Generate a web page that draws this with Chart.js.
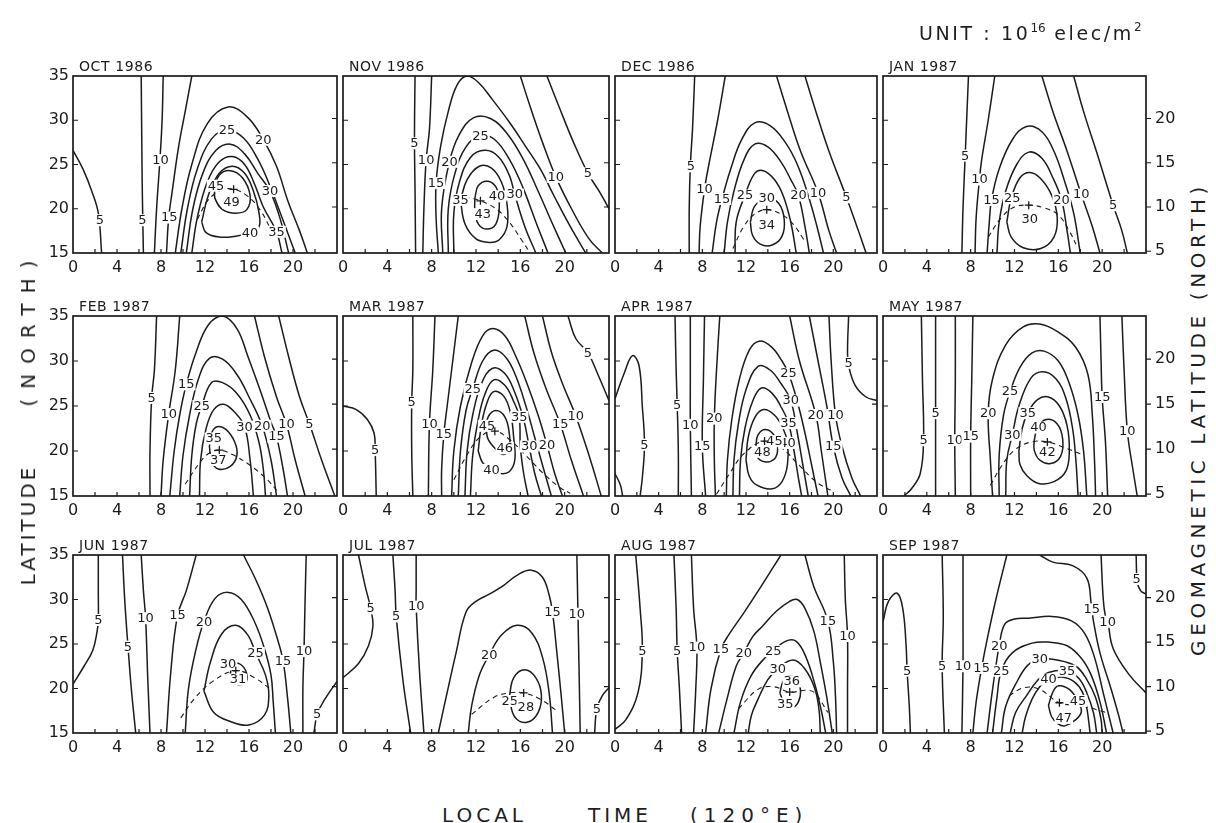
<!DOCTYPE html>
<html><head><meta charset="utf-8">
<script src="https://cdn.jsdelivr.net/npm/chart.js@4.4.1/dist/chart.umd.min.js"></script>
<style>
html,body{margin:0;padding:0;background:#fff;}
#wrap{position:relative;width:1216px;height:823px;overflow:hidden;background:#fff;font-family:'DejaVu Sans',sans-serif;color:#1e1e1e;}
canvas.p{position:absolute;}
.t{position:absolute;white-space:nowrap;color:#1e1e1e;line-height:1;}
.rot{position:absolute;white-space:nowrap;color:#1e1e1e;font-size:20px;line-height:1;transform:translate(-50%,-50%) rotate(-90deg);}
</style></head><body><div id="wrap"></div>
<script>
// ---------- data ----------
const months = ['OCT 1986','NOV 1986','DEC 1986','JAN 1987','FEB 1987','MAR 1987','APR 1987','MAY 1987','JUN 1987','JUL 1987','AUG 1987','SEP 1987'];
const ltTicks = [0,4,8,12,16,20];
const latTicks = [15,20,25,30,35];
const geoTicks = [5,10,15,20];
const ltMinor = [2,4,6,8,10,12,14,16,18,20,22];
const latMinor = [20,25,30];
const geoOffset = 10.2; // geographic minus geomagnetic latitude

// each contour: [TEC value, [[LT, lat], ...], [label points]]
const oct = [
 [5, [[0,26.6],[0.9,24.5],[1.7,22],[2.3,19.5],[2.6,15]], [[2.45,18.7]]],
 [5, [[6.2,35],[6.25,28],[6.3,22],[6.4,15]], [[6.3,18.7]]],
 [10, [[8.2,35],[8.1,30],[7.9,25.5],[7.6,20],[7.4,15]], [[7.95,25.5]]],
 [15, [[10.8,35],[10.2,31],[9.6,27],[9.0,21.8],[8.7,19],[8.5,15]], [[8.75,19]]],
 [20, [[9.3,15],[9.9,20],[10.8,25],[12.2,29.6],[14.1,31.5],[15.9,30.3],[17.3,27.8],[18.5,24.8],[19.5,21],[20.6,17.5],[21.3,15]], [[17.3,27.8]]],
 [25, [[9.8,15],[10.4,20],[11.3,24.5],[12.6,27.9],[14.0,28.9],[15.5,28],[16.8,25.6],[17.9,22.6],[19.0,19],[20.2,15]], [[14.0,28.9]]],
 [30, [[10.3,15],[10.9,20],[11.8,24],[13,26.6],[14.3,27.3],[15.6,26.2],[16.8,24],[17.9,22],[18.8,19],[19.6,15]], [[17.9,22]]],
 [35, [[10.8,15],[11.3,19],[12.2,23],[13.3,25.3],[14.5,25.9],[15.6,25],[16.5,22.8],[17.3,20.2],[18.5,17.4],[19.0,15]], [[18.5,17.4]]],
 [40, [[11.7,18.5],[12.3,21.5],[13.3,24],[14.5,24.8],[15.6,24],[16.4,22],[16.9,19.6],[16.9,17.9],[16.1,17.3],[14.8,16.9],[13.3,16.8],[12.1,17.3],[11.7,18.5]], [[16.1,17.3]]],
 [45, [[12.9,22.3],[13.3,23.8],[14.3,24.3],[15.4,23.5],[16.1,21.5],[15.8,19.9],[14.8,19.5],[13.6,19.9],[12.9,21.2],[12.9,22.3]], [[13.0,22.6]]]
];
const octPeak = [14.6,22.2,49,14.4,20.7];
const octCrest = [[11.3,18.8],[12.3,21],[13.5,22.1],[14.6,22.2],[15.9,21.4],[17.1,19.7],[18.0,17.6]];

const nov = [
 [5, [[6.5,35],[6.45,28],[6.5,22],[6.55,15]], [[6.45,27.4]]],
 [10, [[8.0,35],[7.8,29],[7.5,25.5],[7.3,20],[7.2,15]], [[7.5,25.5]]],
 [15, [[8.6,15],[8.4,19],[8.4,22.9],[8.8,27],[9.5,31],[10.3,34],[11.2,35],[12.2,34.3],[13.5,32.3],[15,29.8],[16.5,27],[17.8,24.5],[19.1,21.3],[20.5,18],[21.9,15]], [[8.4,22.9]]],
 [20, [[9.0,15],[8.9,20],[9.6,25.3],[10.5,28.4],[11.8,30.3],[13.3,30.2],[14.8,28.5],[16.3,25.5],[17.6,22],[18.9,18.3],[20.1,15]], [[9.6,25.3]]],
 [25, [[9.5,15],[9.5,20],[10.1,24],[11.1,27],[12.4,28.3],[13.7,27.8],[15.0,25.6],[16.2,22.5],[17.4,18.5],[18.5,15]], [[12.4,28.2]]],
 [30, [[10.0,15],[10.0,19.5],[10.5,23],[11.5,25.8],[12.8,26.6],[14.0,25.9],[15.0,23.8],[15.5,21.6],[16.4,18],[17.4,15]], [[15.5,21.6]]],
 [35, [[10.6,21],[11.2,23.3],[12.3,24.8],[13.4,24.6],[14.3,23],[14.8,20.5],[14.8,18],[14.1,16.5],[13.2,16.2],[12.0,16.6],[11.0,18.3],[10.6,21]], [[10.6,21]]],
 [40, [[11.9,21.2],[12.2,22.6],[13.1,23.1],[13.9,22.2],[14.1,20.2],[13.8,18.3],[13.0,17.7],[12.2,18.3],[11.9,19.8],[11.9,21.2]], [[13.9,21.4]]],
 [10, [[16.0,35],[16.9,31.5],[18.0,27.5],[19.2,23.6],[20.7,19.8],[22.2,16.6],[23.4,15]], [[19.2,23.6]]],
 [5, [[18.4,35],[19.5,31.5],[20.8,27.5],[22.1,24],[23.2,21.8],[24,20]], [[22.1,24]]]
];
const novPeak = [12.4,20.9,43,12.6,19.4];
const novCrest = [[11.0,21.4],[12.4,20.9],[13.8,20],[15,18.5],[16.1,16.5],[16.9,15]];

const dec = [
 [5, [[7.3,35],[7.1,29],[6.9,24.8],[6.8,20],[6.8,15]], [[6.95,24.8]]],
 [10, [[10.1,35],[9.4,30],[8.6,25],[8.2,22.2],[7.8,18],[7.7,15]], [[8.2,22.2]]],
 [15, [[8.9,15],[9.3,18.5],[9.8,21.1],[10.6,24.5],[11.6,27.8],[12.8,29.7],[14.2,29.4],[15.6,27.5],[16.7,25],[17.7,21.5],[18.5,18],[19.1,15]], [[9.8,21.1]]],
 [20, [[10.0,15],[10.3,18.5],[10.9,22],[11.8,25.5],[12.8,27.3],[14,27],[15.2,25.3],[16.1,23.3],[16.8,21.5],[17.4,18],[17.8,15]], [[16.8,21.5]]],
 [25, [[11,15],[11.1,18.5],[11.9,21.5],[12.8,24],[13.6,24.3],[14.6,23.3],[15.4,21.5],[16.1,18.5],[16.6,15]], [[11.9,21.5]]],
 [30, [[12.4,18.5],[12.8,20.3],[13.9,21.2],[15.0,20.6],[15.5,18.8],[15.3,16.9],[14.4,15.9],[13.3,16.0],[12.6,17],[12.4,18.5]], [[13.9,21.2]]],
 [10, [[14.8,35],[15.8,31],[17,26.5],[18.6,21.8],[19.6,17.5],[20.3,15]], [[18.6,21.8]]],
 [5, [[17.4,35],[18.4,31],[19.6,26.5],[21.2,21.3],[22.3,17.5],[23.0,15]], [[21.2,21.3]]]
];
const decPeak = [13.9,19.9,34,13.9,18.1];
const decCrest = [[10.8,15.5],[11.8,18],[12.8,19.4],[13.9,19.9],[15.2,19.4],[16.3,18.3],[17.3,16.5]];

const jan = [
 [5, [[7.8,35],[7.6,29],[7.5,26],[7.3,20],[7.2,15]], [[7.5,26]]],
 [10, [[10.2,35],[9.6,30],[9.0,25.5],[8.8,23.3],[8.5,19],[8.4,15]], [[8.8,23.3]]],
 [15, [[9.5,15],[9.7,18.5],[9.9,21],[10.6,24.5],[11.8,27.8],[13.1,29.3],[14.5,28.7],[15.6,26.5],[16.6,23],[17.4,19.5],[18.0,15]], [[9.9,21]]],
 [20, [[10.4,15],[10.6,18.5],[11.2,22],[12.2,25],[13.3,26.4],[14.5,25.7],[15.5,23.5],[16.3,21],[16.8,17.5],[17.1,15]], [[16.3,21]]],
 [25, [[11.3,18.5],[11.7,21.2],[12.5,23.5],[13.4,24.1],[14.4,23.4],[15.4,21.5],[15.9,19],[15.6,16.8],[14.4,15.5],[12.8,15.6],[11.7,16.8],[11.3,18.5]], [[11.8,21.2]]],
 [10, [[14.5,35],[15.5,31],[16.8,26.5],[18.1,21.6],[19.1,18],[19.8,15]], [[18.1,21.6]]],
 [5, [[17.4,35],[18.3,31],[19.6,26],[21,20.4],[21.8,17.5],[22.3,15]], [[21,20.4]]]
];
const janPeak = [13.3,20.4,30,13.4,18.8];
const janCrest = [[9.6,16.8],[10.8,19],[12,20.2],[13.3,20.4],[14.7,20.1],[16,19.3],[17.0,17.5],[17.6,16]];

const feb = [
 [5, [[7.6,35],[7.4,29],[7.15,25.9],[7.0,20],[7.0,15]], [[7.15,25.9]]],
 [10, [[9.7,35],[9.3,29],[8.7,24.1],[8.2,19],[8.0,15]], [[8.7,24.1]]],
 [15, [[8.8,15],[9.2,20],[9.7,24],[10.3,27.4],[11.2,31],[12.3,34],[13.6,35],[14.9,33.6],[15.9,30.5],[17,26.8],[18,23.2],[18.5,21.6],[19.1,18],[19.5,15]], [[10.3,27.4],[18.5,21.6]]],
 [20, [[9.7,15],[10,19.5],[10.6,24],[11.4,28],[12.4,30.3],[13.6,30.2],[14.9,28.5],[16.0,26],[17.2,22.8],[18.0,19],[18.5,15]], [[17.2,22.8]]],
 [25, [[10.6,15],[10.8,19.5],[11.2,23],[11.7,25],[12.6,27.6],[13.6,27.6],[14.9,26.4],[16.1,24],[16.9,21],[17.3,18],[17.5,15]], [[11.7,25]]],
 [30, [[11.5,15],[11.6,19],[12.1,22.5],[12.8,24.6],[13.7,25.2],[14.7,24.3],[15.6,22.7],[16.1,19],[16.4,15]], [[15.6,22.7]]],
 [35, [[12.4,20.5],[12.6,22],[13.1,22.7],[13.9,22.4],[14.7,21],[14.9,19.5],[14.3,18.3],[13.2,18.0],[12.6,18.9],[12.4,20.5]], [[12.8,21.4]]],
 [10, [[16.5,35],[17.4,30.5],[18.5,26],[19.4,23],[20.2,19],[21.1,15]], [[19.4,23]]],
 [5, [[18.7,35],[19.6,30.5],[20.6,26],[21.5,23],[22.6,19],[23.8,15]], [[21.5,23]]]
];
const febPeak = [13.3,20.1,37,13.2,19.0];
const febCrest = [[10.2,16.3],[11.4,18.5],[12.3,19.7],[13.3,20.1],[14.5,19.6],[16,18.5],[17.5,17],[18.7,15.4]];

const mar = [
 [5, [[0,25],[1.2,24.6],[2.2,23.5],[2.8,22],[2.9,20.1],[3.0,15]], [[2.9,20.1]]],
 [5, [[6.3,35],[6.3,29],[6.2,25.4],[6.2,20],[6.3,15]], [[6.2,25.4]]],
 [10, [[8.3,35],[8.1,29],[7.8,23],[7.7,15]], [[7.8,23]]],
 [15, [[10.4,35],[9.9,30],[9.4,25],[9.1,21.9],[8.9,18],[8.9,15]], [[9.1,21.9]]],
 [20, [[9.8,15],[10,20],[10.6,25],[11.6,29.8],[12.6,32.8],[13.5,33.6],[14.6,32.8],[15.6,30.5],[16.6,27.5],[17.6,24],[18.4,20.7],[19.1,17.5],[19.8,15]], [[18.4,20.7]]],
 [25, [[10.4,15],[10.6,20],[11.1,24.5],[11.7,26.9],[12.6,30],[13.6,31.2],[14.7,30.4],[15.6,28.3],[16.5,25],[17.3,21.5],[18.1,18],[18.8,15]], [[11.7,26.9]]],
 [30, [[11,15],[11.2,20],[11.7,24],[12.5,27.5],[13.5,29.2],[14.6,28.6],[15.5,26.5],[16.3,23.5],[16.8,20.5],[17.3,17.5],[17.9,15]], [[16.8,20.5]]],
 [35, [[11.5,15],[11.7,19.5],[12.2,23.5],[12.8,26.3],[13.6,27.9],[14.6,27.3],[15.4,25.5],[15.9,23.8],[16.0,20.5],[16.3,17.5],[16.7,15]], [[15.9,23.8]]],
 [40, [[12.2,20],[12.5,23],[13,25.4],[13.6,26.6],[14.5,26.1],[15.1,24.3],[15.4,21.5],[15.5,19],[15.0,17.7],[14.2,17.5],[13.4,17.9],[12.6,18.7],[12.2,20]], [[13.4,17.9]]],
 [45, [[12.9,22.5],[13.1,23.8],[13.8,24.5],[14.6,23.8],[15.0,22],[15.0,20.3],[14.5,19.6],[13.8,20.2],[13.1,21.3],[12.9,22.5]], [[13.0,22.8]]],
 [15, [[16.4,35],[17.2,31],[18.3,27],[19.6,23],[20.6,19],[21.7,15]], [[19.6,23]]],
 [10, [[18.0,35],[18.8,31],[19.8,27.5],[21,23.9],[22.2,19.5],[23.3,15]], [[21,23.9]]],
 [5, [[20.3,35],[21,32.5],[22.1,30.9],[23,28.5],[24,25.6]], [[22.1,30.9]]]
];
const marPeak = [13.7,22.2,46,14.6,20.3];
const marCrest = [[10,16.8],[11.3,19.8],[12.4,21.6],[13.7,22.2],[15,21.3],[16.5,19.5],[18,17.6],[19.5,16],[20.5,15.3]];

const apr = [
 [5, [[0,25.8],[0.8,28.5],[1.6,30.6],[2.2,29.5],[2.5,25],[2.7,20.7],[2.5,17],[2.3,15]], [[2.7,20.7]]],
 [5, [[0,17.5],[0.5,16.2],[0.7,15]], []],
 [5, [[5.5,35],[5.6,29],[5.7,25.1],[5.8,20],[5.8,15]], [[5.7,25.1]]],
 [10, [[6.9,35],[6.9,28],[6.9,22.9],[7.0,15]], [[6.9,22.9]]],
 [15, [[8.2,35],[8.1,28],[8.0,20.5],[8.3,15]], [[8.0,20.5]]],
 [20, [[9.6,35],[9.3,29],[9.1,23.6],[9.1,19],[9.2,15]], [[9.1,23.6]]],
 [25, [[10.2,15],[10.3,19],[10.7,23.5],[11.4,28],[12.3,31.2],[13.2,32.2],[14.3,31.6],[15.3,30],[15.9,28.6],[16.7,25.5],[17.4,22],[18.0,18.5],[18.6,15]], [[15.9,28.6]]],
 [30, [[10.8,15],[10.9,19],[11.3,23],[12,26.8],[13.1,29.4],[14.2,29],[15.2,27.5],[16.1,25.6],[16.7,22],[17.2,18.5],[17.7,15]], [[16.1,25.6]]],
 [35, [[11.4,15],[11.5,19],[11.9,22.5],[12.6,25.5],[13.4,27],[14.4,26.4],[15.3,24.7],[15.9,23.1],[16.4,20],[16.8,17],[17.1,15]], [[15.9,23.1]]],
 [40, [[12.0,19],[12.2,21.5],[12.8,23.7],[13.6,24.6],[14.6,24],[15.4,22.5],[15.8,20.9],[15.8,18.5],[15.3,16.6],[14.4,15.8],[13.0,16.2],[12.3,17.2],[12.0,19]], [[15.8,20.9]]],
 [45, [[12.9,20.5],[13.1,21.8],[13.8,22.4],[14.6,21.7],[14.9,20.3],[14.6,19.1],[13.7,18.8],[13.0,19.4],[12.9,20.5]], [[14.6,21.1]]],
 [20, [[16.0,35],[16.9,30],[18.4,24],[18.9,20],[19.5,15]], [[18.4,24]]],
 [15, [[17.8,35],[18.6,30],[19.4,25],[20,20.5],[20.8,17],[21.6,15]], [[20,20.5]]],
 [10, [[19.6,35],[19.8,30],[20.2,24],[20.8,20.5],[21.7,17],[22.5,15]], [[20.2,24]]],
 [5, [[21.4,35],[21.3,31],[21.4,29.5],[22,27.3],[23,26],[24,25.6]], [[21.4,29.8]]]
];
const aprPeak = [13.7,21.1,48,13.5,19.9];
const aprCrest = [[9.3,15.2],[10.5,17.5],[11.8,19.7],[13.7,21.1],[15.3,20.3],[16.8,18.5],[18.5,16.5],[20,15.5]];

const may = [
 [5, [[3.5,35],[3.6,28],[3.7,21.2],[3.4,17.5],[2.6,15.8],[1.9,15]], [[3.7,21.2]]],
 [5, [[4.8,35],[4.8,28],[4.8,24.2],[4.8,20],[4.8,15]], [[4.8,24.2]]],
 [10, [[6.6,35],[6.6,28],[6.55,21.2],[6.6,15]], [[6.55,21.2]]],
 [15, [[8.2,35],[8.1,28],[8.0,21.6],[8.0,15]], [[8.0,21.6]]],
 [20, [[10,15],[9.8,19],[9.6,24.2],[10,28],[11.2,31.8],[12.8,33.8],[14.3,34.1],[16,33.2],[17.6,31.5],[18.7,28.5],[19.1,24],[19.3,19],[19.4,15]], [[9.6,24.2]]],
 [25, [[10.6,15],[10.6,19.5],[11,24],[11.6,26.6],[12.5,29.3],[13.6,30.9],[14.7,31.1],[16,30],[17,27.5],[17.8,24],[18.3,20],[18.6,15]], [[11.6,26.6]]],
 [30, [[11.2,15],[11.3,19],[11.8,21.8],[12.4,25],[13.5,28.1],[14.6,28.8],[15.8,28],[16.7,25.8],[17.3,22.5],[17.6,19],[17.8,15]], [[11.8,21.8]]],
 [35, [[12.4,20],[12.7,22.5],[13.2,24.2],[14.1,25.7],[15.1,26],[16.1,25],[16.8,22.8],[17.0,20],[16.7,17.8],[15.6,16.6],[14.2,16.4],[13.1,17.3],[12.5,18.5],[12.4,20]], [[13.2,24.2]]],
 [40, [[13.8,21.2],[14.1,22.6],[14.9,23.5],[15.9,23],[16.4,21.3],[16.2,19.4],[15.3,18.6],[14.3,19],[13.8,20.1],[13.8,21.2]], [[14.2,22.6]]],
 [15, [[19.8,35],[19.9,30],[20,26],[20.3,21],[20.5,15]], [[20,26]]],
 [10, [[21.8,35],[22.0,29],[22.3,22.2],[22.8,18],[23.2,15]], [[22.3,22.2]]]
];
const mayPeak = [15.0,21.0,42,15.0,19.9];
const mayCrest = [[9.8,16.2],[10.8,18.3],[12,20.1],[13.5,21],[15,21],[16.5,20.4],[18.2,19.6]];

const jun = [
 [5, [[0,20.5],[1.0,22.5],[1.8,24.3],[2.2,26.5],[2.3,27.7],[2.3,31],[2.3,35]], [[2.3,27.7]]],
 [5, [[4.5,35],[4.7,30],[5,24.7],[5.3,20],[5.7,15]], [[5,24.7]]],
 [10, [[6.2,35],[6.4,31],[6.6,27.9],[6.8,21],[7.0,15]], [[6.6,27.9]]],
 [15, [[11.2,35],[10.3,31],[9.5,28.2],[8.9,22],[8.5,15]], [[9.5,28.2]]],
 [20, [[10.2,15],[10.5,20],[11.2,24.5],[11.9,27.5],[12.9,30.1],[14.1,30.8],[15.3,30],[16.5,27.5],[17.4,24.5],[18.0,21.5],[18.2,18.5],[18.4,15]], [[11.9,27.5]]],
 [25, [[11.9,19.7],[12.5,23],[13.5,26.1],[14.8,27.1],[15.9,26],[16.6,24],[17.5,21.5],[17.8,19.2],[17.4,17],[16.0,15.9],[14.3,16.3],[12.8,17.3],[11.9,19.7]], [[16.6,24]]],
 [30, [[14.3,21.6],[14.5,22.6],[15.1,22.8],[15.7,22],[15.8,20.9],[15.2,20.4],[14.5,20.7],[14.3,21.6]], [[14.1,22.7]]],
 [15, [[15.5,35],[16.7,32],[17.7,29],[18.6,25.5],[19.1,23.1],[19.5,19],[19.8,15]], [[19.1,23.1]]],
 [10, [[21.2,35],[21.1,30],[21,24.2],[20.9,20],[20.9,15]], [[21,24.2]]],
 [5, [[21.9,15],[22.2,17.1],[22.9,18.8],[24,20.8]], [[22.2,17.1]]]
];
const junPeak = [14.8,22.0,31,15.0,21.0];
const junCrest = [[9.8,16.7],[11,18.8],[12.7,20.8],[14.8,22.0],[16.5,21.2],[18,19.9]];

const jul = [
 [5, [[1.4,35],[2.0,31.5],[2.5,29],[2.7,27],[2.3,24.8],[1.4,22.8],[0,21.2]], [[2.5,29]]],
 [5, [[4.5,35],[4.7,31],[4.8,28.1],[5.4,21],[6.1,15]], [[4.8,28.1]]],
 [10, [[6.6,35],[6.6,31],[6.6,29.2],[6.9,22],[7.3,15]], [[6.6,29.2]]],
 [15, [[8.6,15],[9.3,19],[10.2,24],[11.1,28.6],[12.0,29.8],[13.2,30.6],[14.5,31.6],[15.8,32.8],[17.0,33.3],[18.0,32.5],[18.6,30.5],[18.9,28.6],[19.3,24],[19.7,19],[20,15]], [[18.9,28.6]]],
 [20, [[11.3,15],[11.6,18],[12.3,21.5],[13.2,23.8],[14.3,26],[15.7,27.1],[17.0,26.3],[18.0,23.5],[18.6,19.5],[18.9,15]], [[13.2,23.8]]],
 [25, [[15.0,19],[15.4,21.2],[16.4,22.1],[17.4,21.2],[17.9,19.3],[17.6,17.3],[16.6,16.2],[15.5,16.8],[15.0,19]], [[15.05,18.6]]],
 [10, [[21.1,35],[21.2,28.4],[21.3,22],[21.4,15]], [[21.1,28.4]]],
 [5, [[22.7,15],[22.9,17.7],[23.4,19.2],[24,20.1]], [[22.9,17.7]]]
];
const julPeak = [16.3,19.5,28,16.5,17.9];
const julCrest = [[11.6,17.1],[13.6,19],[15,19.5],[16.3,19.5],[17.8,18.8],[19.3,17.5]];

const aug = [
 [5, [[1.9,35],[2.3,29],[2.5,24.2],[2.1,19.5],[1.0,16.5],[0,15.4]], [[2.5,24.2]]],
 [5, [[5.4,35],[5.6,29],[5.7,24.2],[5.9,20],[6.1,15]], [[5.7,24.2]]],
 [10, [[7,35],[7.2,29],[7.5,24.6],[7.4,20],[7.2,15]], [[7.5,24.6]]],
 [15, [[15.2,35],[13.4,31.5],[11.8,28.5],[10.4,26],[9.7,24.4],[8.8,20],[8.3,15]], [[9.7,24.4]]],
 [20, [[9.5,15],[10.3,19],[11.1,22.5],[11.8,24],[12.6,25.8],[13.5,27],[14.8,28.7],[16.0,29.8],[16.7,30.0],[17.4,29],[18.2,26.5],[18.8,23],[19.4,19],[19.9,15]], [[11.8,24]]],
 [25, [[10.9,15],[11.5,18.5],[12.5,21.5],[13.7,23.4],[14.5,24.2],[15.6,25.3],[16.6,25.3],[17.5,23.5],[18.3,20.5],[18.9,17.5],[19.3,15]], [[14.5,24.2]]],
 [30, [[12.2,15],[12.5,17],[13.1,18.8],[14.0,21],[14.9,22.2],[16.3,23.2],[17.4,22.2],[18.3,20],[18.7,17.5],[18.8,15]], [[14.9,22.2]]],
 [35, [[15.1,19.5],[15.4,20.8],[16,21.4],[16.7,20.9],[17,19.7],[16.8,18.5],[16.3,17.9],[15.6,18.2],[15.1,19.5]], [[15.6,18.3]]],
 [15, [[17.4,35],[18.2,31.5],[19.5,27.6],[20,23],[20.2,19],[20.3,15]], [[19.5,27.6]]],
 [10, [[21,35],[21.1,30],[21.3,25.9],[21.3,20],[21.3,15]], [[21.3,25.9]]]
];
const augPeak = [16.0,19.6,36,16.2,20.8];
const augCrest = [[11.3,17.7],[13.1,19.9],[14.5,20.2],[16.0,19.6],[17.5,19.8],[18.3,19.5],[19.5,17.3]];

const sep = [
 [5, [[0,27.5],[0.5,29.8],[1.3,30.7],[1.8,29],[2.1,25],[2.2,22],[2.4,18],[2.5,15]], [[2.2,22]]],
 [5, [[5.4,35],[5.5,28],[5.4,22.5],[5.6,15]], [[5.4,22.5]]],
 [10, [[7.3,35],[7.3,28],[7.3,22.5],[7.2,15]], [[7.3,22.5]]],
 [15, [[11.3,35],[10.3,30],[9.5,25.5],[9,22.3],[8.5,18.5],[8.2,15]], [[9,22.3]]],
 [20, [[9.5,15],[9.9,19],[10.3,22.5],[10.6,24.8],[11.1,27.2],[12,27.8],[13.3,27.9],[15.4,28.1],[17.2,27.6],[18.4,26.2],[19.3,23.5],[20.1,19.5],[20.6,17],[21.0,15]], [[10.6,24.8]]],
 [25, [[10,15],[10.4,19],[10.8,22],[11.8,24],[13.6,25.1],[15.2,25.2],[16.8,24.8],[18.1,23.4],[19,21.5],[19.8,18.5],[20.4,15]], [[10.8,22]]],
 [30, [[10.8,15],[11.2,18],[12.2,20.7],[13.2,22.6],[14.3,23.3],[15.9,23.2],[17.6,22.5],[18.6,21],[19.4,19],[19.9,16.5],[20.0,15]], [[14.3,23.3]]],
 [35, [[11.6,15],[12.1,17.3],[13.1,19.2],[14.1,20.9],[15.1,21.8],[16.8,22.0],[17.9,21.1],[18.6,19.5],[19.2,17.3],[19.5,15]], [[16.8,22.0]]],
 [40, [[12.7,15],[13.0,16.8],[13.6,18.8],[14.3,20.2],[15.1,21.0],[16.3,21.3],[17.4,20.8],[18.2,19.6],[18.6,17.8],[18.9,15]], [[15.1,21.0]]],
 [45, [[15.1,18.1],[15.5,19.6],[16,20.3],[17.0,19.9],[17.8,18.6],[18.1,17.4],[17.6,16.5],[16.6,15.8],[16.0,16.0],[15.4,16.8],[15.1,18.1]], [[17.8,18.6]]],
 [15, [[14.3,35],[15.5,34.2],[17.3,33.8],[18.6,32.4],[19,29.5],[19.1,28.6],[19.2,27.6],[19.8,24],[20.8,20],[21.5,17],[21.9,15]], [[19.05,28.9]]],
 [10, [[19.9,35],[20.1,30],[20.3,28.1],[20.5,27.6],[21,24.5],[22.5,21.5],[24,19.5]], [[20.5,27.5]]],
 [5, [[23.1,35],[23.2,32],[23.5,31],[24,30.6]], [[23.15,32.3]]]
];
const sepPeak = [16.1,18.4,47,16.5,16.7];
const sepCrest = [[11.5,19.2],[12.9,20.1],[14.3,19.9],[16.1,18.4],[18.3,18],[20.4,17.3]];

// ---------- layout (pixels) ----------
const colX = [[73,337],[343,609],[615,877],[883,1146]];
const rowY = [[76,253],[316,496],[555,733]];
const INK = '#1b1b1b';
const FONT = "'DejaVu Sans', sans-serif";

const panelLines = [oct,nov,dec,jan,feb,mar,apr,may,jun,jul,aug,sep];
const panelPeaks = [octPeak,novPeak,decPeak,janPeak,febPeak,marPeak,aprPeak,mayPeak,junPeak,julPeak,augPeak,sepPeak];
const panelCrests = [octCrest,novCrest,decCrest,janCrest,febCrest,marCrest,aprCrest,mayCrest,junCrest,julCrest,augCrest,sepCrest];

const wrap = document.getElementById('wrap');

const decorPlugin = {
  id: 'decor',
  afterDatasetsDraw(chart, args, opts) {
    const ctx = chart.ctx, a = chart.chartArea;
    const xs = chart.scales.x, ys = chart.scales.y, gs = chart.scales.y2;
    ctx.save();
    // contour labels
    ctx.font = '13px ' + FONT;
    ctx.textAlign = 'center'; ctx.textBaseline = 'middle';
    opts.lines.forEach(([v, pts, lbls]) => {
      (lbls || []).forEach(([lx, ly]) => {
        const px = xs.getPixelForValue(lx), py = ys.getPixelForValue(ly);
        const t = String(v), w = ctx.measureText(t).width;
        ctx.fillStyle = '#fff';
        ctx.fillRect(px - w/2 - 1, py - 6, w + 2, 12);
        ctx.fillStyle = INK;
        ctx.fillText(t, px, py + 0.5);
      });
    });
    // peak marker and value
    const pk = opts.peak;
    const mx = xs.getPixelForValue(pk[0]), my = ys.getPixelForValue(pk[1]);
    ctx.strokeStyle = INK; ctx.lineWidth = 1.3;
    ctx.beginPath(); ctx.moveTo(mx-4, my); ctx.lineTo(mx+4, my); ctx.moveTo(mx, my-4); ctx.lineTo(mx, my+4); ctx.stroke();
    const tx = xs.getPixelForValue(pk[3]), ty = ys.getPixelForValue(pk[4]);
    const pt = String(pk[2]), pw = ctx.measureText(pt).width;
    ctx.fillStyle = '#fff'; ctx.fillRect(tx - pw/2 - 1, ty - 6, pw + 2, 12);
    ctx.fillStyle = INK; ctx.fillText(pt, tx, ty + 0.5);
    // frame
    ctx.lineWidth = 1.7; ctx.strokeStyle = INK;
    ctx.strokeRect(a.left, a.top, a.right - a.left, a.bottom - a.top);
    // inner tick marks
    ctx.lineWidth = 1.2;
    ctx.beginPath();
    ltMinor.forEach(v => { const x = xs.getPixelForValue(v); ctx.moveTo(x, a.bottom); ctx.lineTo(x, a.bottom - 4); });
    latMinor.forEach(v => { const y = ys.getPixelForValue(v); ctx.moveTo(a.left, y); ctx.lineTo(a.left + 5, y); });
    geoTicks.forEach(v => {
      const y = gs.getPixelForValue(v);
      if (opts.outerRight) { ctx.moveTo(a.right, y); ctx.lineTo(a.right + 5, y); }
      else if (v > 5) { ctx.moveTo(a.right, y); ctx.lineTo(a.right - 5, y); }
    });
    ctx.stroke();
    // panel title
    ctx.font = '14px ' + FONT; ctx.textAlign = 'left'; ctx.textBaseline = 'alphabetic';
    if ('letterSpacing' in ctx) ctx.letterSpacing = '0.6px';
    ctx.fillStyle = INK;
    ctx.fillText(opts.title, a.left + 6, a.top - 5);
    ctx.restore();
  }
};

panelLines.forEach((lines, i) => {
  const col = i % 4, row = Math.floor(i / 4);
  const [L, R] = colX[col], [T, B] = rowY[row];
  const padL = 38, padR = 40, padT = 24, padB = 27;
  const W = R - L + padL + padR, H = B - T + padT + padB;
  const cv = document.createElement('canvas');
  cv.className = 'p';
  cv.width = W; cv.height = H;
  cv.style.width = W + 'px'; cv.style.height = H + 'px';
  cv.style.left = (L - padL) + 'px'; cv.style.top = (T - padT) + 'px';
  wrap.appendChild(cv);

  const datasets = lines.map(([v, pts]) => ({
    data: pts.map(([x, y]) => ({x, y})),
    showLine: true, borderColor: INK, borderWidth: 1.5, pointRadius: 0,
    tension: 0.4, fill: false
  }));
  datasets.push({
    data: panelCrests[i].map(([x, y]) => ({x, y})),
    showLine: true, borderColor: INK, borderWidth: 1.1, borderDash: [5, 4],
    pointRadius: 0, tension: 0.4, fill: false
  });

  const tickFont = {family: FONT, size: 16};
  new Chart(cv, {
    type: 'scatter',
    data: {datasets},
    options: {
      responsive: false, animation: false, devicePixelRatio: 1, events: [],
      layout: {padding: {top: padT, left: 0, right: 0, bottom: 0}},
      plugins: {
        legend: {display: false}, tooltip: {enabled: false},
        decor: {lines, peak: panelPeaks[i], title: months[i], outerRight: col === 3}
      },
      scales: {
        x: {
          type: 'linear', min: 0, max: 24, position: 'bottom',
          grid: {display: false, drawTicks: false}, border: {display: false},
          afterBuildTicks: s => { s.ticks = ltTicks.map(v => ({value: v})); },
          afterFit: s => { s.height = padB; },
          ticks: {font: tickFont, color: INK, padding: 5, maxRotation: 0, autoSkip: false}
        },
        y: {
          type: 'linear', min: 15, max: 35, position: 'left',
          grid: {display: false, drawTicks: false}, border: {display: false},
          afterBuildTicks: s => { s.ticks = latTicks.map(v => ({value: v})); },
          afterFit: s => { s.width = padL; },
          ticks: {display: col === 0, font: tickFont, color: INK, padding: 4}
        },
        y2: {
          type: 'linear', min: 15 - geoOffset, max: 35 - geoOffset, position: 'right',
          grid: {display: false, drawTicks: false}, border: {display: false},
          afterBuildTicks: s => { s.ticks = geoTicks.map(v => ({value: v})); },
          afterFit: s => { s.width = padR; },
          ticks: {display: col === 3, font: tickFont, color: INK, padding: 9}
        }
      }
    },
    plugins: [decorPlugin]
  });
});

// overall texts
function addText(html, css) {
  const d = document.createElement('div');
  d.className = 't'; d.innerHTML = html;
  Object.assign(d.style, css);
  wrap.appendChild(d);
  return d;
}
addText('UNIT : 10<sup style="font-size:12px;vertical-align:8px;letter-spacing:0">16</sup> elec/m<sup style="font-size:12px;vertical-align:9px">2</sup>',
  {left: '919px', top: '21px', fontSize: '19px', letterSpacing: '2.6px'});
addText('LOCAL', {left: '442px', top: '805px', fontSize: '20px', letterSpacing: '4px'});
addText('TIME', {left: '588px', top: '805px', fontSize: '20px', letterSpacing: '4px'});
addText('(120°E)', {left: '690px', top: '805px', fontSize: '20px', letterSpacing: '6px'});

const left = document.createElement('div');
left.className = 'rot';
left.innerHTML = '<span style="letter-spacing:3px">LATITUDE</span><span style="display:inline-block;width:58px"></span><span style="letter-spacing:10px">(NORTH)</span>';
left.style.left = '28px'; left.style.top = '418px';
wrap.appendChild(left);

const right = document.createElement('div');
right.className = 'rot';
right.style.letterSpacing = '4.6px';
right.textContent = 'GEOMAGNETIC LATITUDE (NORTH)';
right.style.left = '1198px'; right.style.top = '419px';
wrap.appendChild(right);
</script>
</body></html>
